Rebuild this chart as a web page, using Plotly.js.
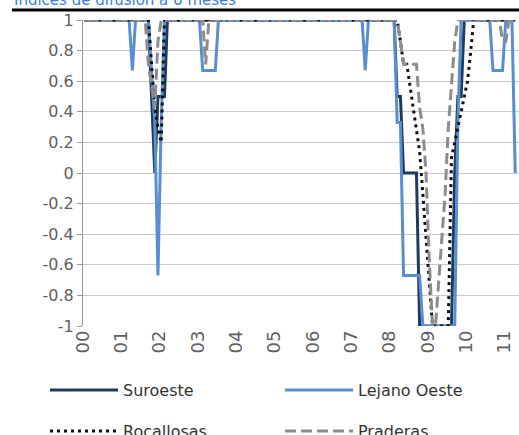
<!DOCTYPE html>
<html>
<head>
<meta charset="utf-8">
<script src="https://cdn.plot.ly/plotly-3.0.1.min.js"></script>
<style>html,body{margin:0;padding:0;background:#fff;}#chart{width:519px;height:435px;}</style>
</head>
<body>
<div id="chart"></div>
<script>
// Monthly categories Jan 2000 .. Apr 2011
var categories = [];
for (var yy = 2000; yy <= 2011; yy++) {
  for (var mm = 1; mm <= 12; mm++) {
    if (yy === 2011 && mm > 4) break;
    categories.push(yy + '-' + (mm < 10 ? '0' + mm : mm));
  }
}
var yearTicks = ['2000-01-01','2001-01-01','2002-01-01','2003-01-01','2004-01-01','2005-01-01','2006-01-01','2007-01-01','2008-01-01','2009-01-01','2010-01-01','2011-01-01'];
var yearLabels = ['00','01','02','03','04','05','06','07','08','09','10','11'];
var yTickVals = [1,0.8,0.6,0.4,0.2,0,-0.2,-0.4,-0.6,-0.8,-1];
var yTickText = ['1','0.8','0.6','0.4','0.2','0','-0.2','-0.4','-0.6','-0.8','-1'];
var titleText = 'Índices de difusión a 6 meses';

var suroeste = [
1,1,1,1,1,1,1,1,1,1,1,1,
1,1,1,1,1,1,1,1,1,0.5,0,0.5,
0.5,0.5,1,1,1,1,1,1,1,1,1,1,
1,1,1,1,1,1,1,1,1,1,1,1,
1,1,1,1,1,1,1,1,1,1,1,1,
1,1,1,1,1,1,1,1,1,1,1,1,
1,1,1,1,1,1,1,1,1,1,1,1,
1,1,1,1,1,1,1,1,1,1,1,1,
1,1,0.5,0.5,0,0,0,0,0,-1,-1,-1,
-1,-1,-1,-1,-1,-1,-1,-1,0,0.5,0.5,1,
1,1,1,1,1,1,1,1,1,1,1,1,
1,1,1,1
];
var lejanoOeste = [
1,1,1,1,1,1,1,1,1,1,1,1,
1,1,1,0.67,1,1,1,1,1,0.67,0.33,-0.67,
0.33,1,1,1,1,1,1,1,1,1,1,1,
1,0.67,0.67,0.67,0.67,0.67,1,1,1,1,1,1,
1,1,1,1,1,1,1,1,1,1,1,1,
1,1,1,1,1,1,1,1,1,1,1,1,
1,1,1,1,1,1,1,1,1,1,1,1,
1,1,1,1,0.67,1,1,1,1,1,1,1,
1,1,0.33,0.33,-0.67,-0.67,-0.67,-0.67,-0.67,-0.67,-1,-1,
-1,-1,-1,-1,-1,-1,-1,-1,-1,0.33,1,1,
1,1,1,1,1,1,1,1,0.67,0.67,0.67,0.67,
1,1,1,0
];
var rocallosas = [
1,1,1,1,1,1,1,1,1,1,1,1,
1,1,1,1,1,1,1,1,1,0.71,0.43,0.29,
0.2,1,1,1,1,1,1,1,1,1,1,1,
1,1,1,1,1,1,1,1,1,1,1,1,
1,1,1,1,1,1,1,1,1,1,1,1,
1,1,1,1,1,1,1,1,1,1,1,1,
1,1,1,1,1,1,1,1,1,1,1,1,
1,1,1,1,1,1,1,1,1,1,1,1,
1,1,1,0.86,0.71,0.71,0.57,0.43,0.29,0.14,-0.14,-0.43,
-0.71,-1,-1,-1,-1,-1,-1,0.1,0.2,0.3,0.4,0.5,
0.6,0.8,1,1,1,1,1,1,1,1,1,1,
1,1,1,1
];
var praderas = [
1,1,1,1,1,1,1,1,1,1,1,1,
1,1,1,1,1,1,1,1,0.71,0.57,0.43,0.86,
1,1,1,1,1,1,1,1,1,1,1,1,
1,1,0.71,1,1,1,1,1,1,1,1,1,
1,1,1,1,1,1,1,1,1,1,1,1,
1,1,1,1,1,1,1,1,1,1,1,1,
1,1,1,1,1,1,1,1,1,1,1,1,
1,1,1,1,1,1,1,1,1,1,1,1,
1,1,1,0.86,0.71,0.71,0.71,0.71,0.71,0.43,0.29,0,
-0.57,-1,-1,-0.71,-0.43,-0.14,0.29,0.57,0.86,1,1,1,
1,1,1,1,1,1,1,1,1,1,1,0.86,
0.86,1,1,1
];

var xDates = categories.map(function (c) { return c + '-16'; });

var FONT = 'DejaVu Sans, sans-serif';
var traces = [
  {x: xDates, y: suroeste, name: 'Suroeste', type: 'scatter', mode: 'lines',
   line: {color: '#1F3A5F', width: 3}, legend: 'legend'},
  {x: xDates, y: lejanoOeste, name: 'Lejano Oeste', type: 'scatter', mode: 'lines',
   line: {color: '#5A8ED2', width: 3}, legend: 'legend'},
  {x: xDates, y: rocallosas, name: 'Rocallosas', type: 'scatter', mode: 'lines',
   line: {color: '#111111', width: 3, dash: '3px,4px'}, legend: 'legend2'},
  {x: xDates, y: praderas, name: 'Praderas', type: 'scatter', mode: 'lines',
   line: {color: '#8C8C8C', width: 3, dash: '11px,5px'}, legend: 'legend2'}
];

var range = ['2000-01-01', '2011-05-22'];
var legendCommon = {orientation: 'h', x: (45-83)/436, xanchor: 'left', yanchor: 'middle',
  entrywidth: 152, entrywidthmode: 'pixels', itemwidth: 68, bgcolor: 'rgba(0,0,0,0)',
  font: {family: FONT, size: 16, color: '#333333'}};
var layout = {
  width: 519, height: 435,
  margin: {l: 83, r: 0, t: 20, b: 109, autoexpand: false},
  paper_bgcolor: '#fff', plot_bgcolor: '#fff',
  font: {family: FONT, color: '#595959', size: 16},
  showlegend: true,
  xaxis: {type: 'date', range: range, tickvals: yearTicks, ticktext: yearLabels, tickangle: -90,
          showgrid: false, zeroline: false, showline: false, ticks: '',
          tickfont: {family: FONT, size: 18, color: '#606060'}},
  xaxis2: {type: 'date', range: range, overlaying: 'x', anchor: 'free', position: 0.5,
           tickvals: yearTicks, showticklabels: false, ticks: 'outside', ticklen: 6, tickwidth: 1,
           tickcolor: '#9A9A9A', showline: true, linecolor: '#9A9A9A', linewidth: 1, showgrid: false, zeroline: false},
  yaxis: {range: [-1, 1], tickvals: yTickVals, ticktext: yTickText, showgrid: true, gridcolor: '#C8C8C8', gridwidth: 1,
          zeroline: false, showline: true, linecolor: '#9A9A9A', ticks: 'outside', ticklen: 5, tickcolor: '#9A9A9A',
          tickfont: {family: FONT, size: 16, color: '#606060'}},
  legend: Object.assign({}, legendCommon, {y: (326-390)/306}),
  legend2: Object.assign({}, legendCommon, {y: (326-431)/306}),
  annotations: [{text: titleText, xref: 'paper', yref: 'paper', x: (12-83)/436, xanchor: 'left',
                 y: (326-0)/306, yanchor: 'middle', yshift: 1, showarrow: false,
                 font: {family: FONT, size: 15, color: '#3A7FD5'}}],
  shapes: [{type: 'line', xref: 'paper', yref: 'paper', x0: (12-83)/436, x1: 1.01,
            y0: (326-10)/306, y1: (326-10)/306, line: {color: '#000', width: 3}}]
};
Plotly.newPlot('chart', traces, layout, {displayModeBar: false, staticPlot: true});
</script>
</body>
</html>
